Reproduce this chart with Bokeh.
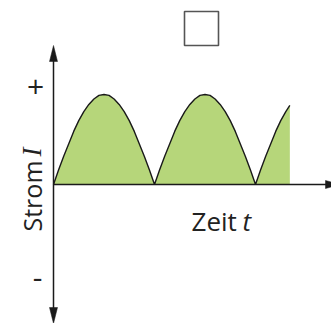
from math import pi

from bokeh.embed import file_html
from bokeh.models import ColumnDataSource, Label, Range1d
from bokeh.plotting import figure
from bokeh.resources import INLINE

# Rectified current over time (time in half periods, current relative to the peak)
time_t = [0.00, 0.05, 0.10, 0.15, 0.20, 0.25, 0.30, 0.35, 0.40, 0.45,
          0.50, 0.55, 0.60, 0.65, 0.70, 0.75, 0.80, 0.85, 0.90, 0.95,
          1.00, 1.05, 1.10, 1.15, 1.20, 1.25, 1.30, 1.35, 1.40, 1.45,
          1.50, 1.55, 1.60, 1.65, 1.70, 1.75, 1.80, 1.85, 1.90, 1.95,
          2.00, 2.05, 2.10, 2.15, 2.20, 2.25, 2.30, 2.34]
current_i = [0.00, 0.16, 0.31, 0.45, 0.59, 0.71, 0.81, 0.89, 0.95, 0.99,
             1.00, 0.99, 0.95, 0.89, 0.81, 0.71, 0.59, 0.45, 0.31, 0.16,
             0.00, 0.16, 0.31, 0.45, 0.59, 0.71, 0.81, 0.89, 0.95, 0.99,
             1.00, 0.99, 0.95, 0.89, 0.81, 0.71, 0.59, 0.45, 0.31, 0.16,
             0.00, 0.16, 0.31, 0.45, 0.59, 0.71, 0.81, 0.88]

x_label = "Zeit"
x_symbol = "t"
y_label = "Strom"
y_symbol = "I"
y_pos_label = "+"
y_neg_label = "-"

W, H = 331, 323
# pixel position of the origin and pixels per data unit
X0, Y0 = 53, 184
SX, SY = 101, 90


def dx(px):
    return (px - X0) / SX


def dy(py):
    return (Y0 - py) / SY


p = figure(width=W, height=H, output_backend="svg", toolbar_location=None,
           x_range=Range1d(dx(0), dx(W)), y_range=Range1d(dy(H), dy(0)),
           min_border=0, outline_line_color=None)
p.axis.visible = False
p.grid.visible = False
p.background_fill_color = "white"
p.border_fill_color = "white"

src = ColumnDataSource(dict(t=time_t, i=current_i))
p.varea(x="t", y1=0, y2="i", source=src, fill_color="#b6d67a")
p.line(x="t", y="i", source=src, line_color="#1a1a1a", line_width=1.4)

axis_color = "#1a1a1a"
# axes
p.segment(x0=[0, 0], y0=[dy(50), 0], x1=[0, dx(328)], y1=[dy(318), 0],
          line_color=axis_color, line_width=1.5)
hw_x = 4 / SX
hw_y = 4 / SY
p.patches(
    xs=[[0, -hw_x, hw_x], [0, -hw_x, hw_x], [dx(340), dx(325), dx(325)]],
    ys=[[dy(45), dy(61), dy(61)], [dy(323), dy(307), dy(307)], [0, hw_y, -hw_y]],
    fill_color=axis_color, line_color=axis_color, line_width=0.5)

# small empty box above the chart
p.quad(left=dx(184), right=dx(218), top=dy(11), bottom=dy(45),
       fill_color="white", line_color="#555555", line_width=1.6)

txt = "#222222"
font = "Open Sans"

p.add_layout(Label(x=dx(31), y=dy(231), text=y_label, angle=pi / 2,
                   text_font=font, text_font_size="25px", text_color=txt,
                   text_align="left", text_baseline="alphabetic"))
p.add_layout(Label(x=dx(31), y=dy(156), text=y_symbol, angle=pi / 2,
                   text_font="Liberation Serif", text_font_style="italic",
                   text_font_size="27px", text_color=txt,
                   text_align="left", text_baseline="alphabetic"))

p.add_layout(Label(x=dx(191), y=dy(220), text=x_label,
                   text_font=font, text_font_size="26px", text_color=txt,
                   text_align="left", text_baseline="alphabetic"))
p.add_layout(Label(x=dx(242), y=dy(220), text=x_symbol,
                   text_font=font, text_font_style="italic",
                   text_font_size="26px", text_color=txt,
                   text_align="left", text_baseline="alphabetic"))

p.add_layout(Label(x=dx(35), y=dy(86), text=y_pos_label,
                   text_font=font, text_font_size="30px", text_color=txt,
                   text_align="center", text_baseline="middle"))
p.add_layout(Label(x=dx(37), y=dy(277), text=y_neg_label,
                   text_font=font, text_font_size="30px", text_color=txt,
                   text_align="center", text_baseline="middle"))

open("out.html", "w").write(file_html(p, INLINE))
